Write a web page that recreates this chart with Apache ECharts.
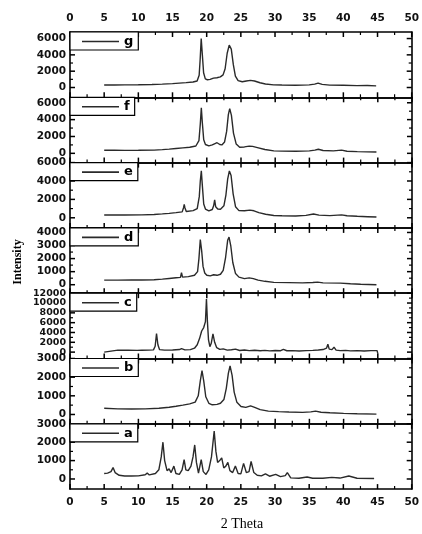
<!DOCTYPE html>
<html><head><meta charset="utf-8">
<script src="https://cdn.jsdelivr.net/npm/echarts@6/dist/echarts.min.js"></script>
<style>html,body{margin:0;padding:0;background:#fff}#c{width:422px;height:534px}</style>
</head><body><div id="c"></div>
<script>
// ---- data ----
const panelNames = ['g', 'f', 'e', 'd', 'c', 'b', 'a'];
const xTicks = [0, 5, 10, 15, 20, 25, 30, 35, 40, 45, 50];
const xLabelName = '2 Theta';
const yLabelName = 'Intensity';

const yTicksG = [0, 2000, 4000, 6000];
const yTicksF = [0, 2000, 4000, 6000];
const yTicksE = [0, 2000, 4000, 6000];
const yTicksD = [0, 1000, 2000, 3000, 4000];
const yTicksC = [0, 2000, 4000, 6000, 8000, 10000, 12000];
const yTicksB = [0, 1000, 2000, 3000];
const yTicksA = [0, 1000, 2000, 3000];

const seriesG = [[5,300],[6.5,310],[8,320],[10,330],[12,370],[13.5,420],[15,480],[16,540],[17,600],[18,680],[18.6,800],[18.9,1500],[19.05,3500],[19.2,6000],[19.35,4200],[19.55,1800],[19.8,1050],[20.1,950],[20.5,1000],[21,1150],[21.5,1200],[22,1300],[22.4,1550],[22.7,2300],[23,4200],[23.3,5200],[23.6,4700],[23.9,2800],[24.2,1400],[24.6,850],[25.2,700],[25.8,800],[26.4,880],[27,800],[27.8,580],[28.6,430],[29.8,320],[31,300],[33,280],[35,320],[35.8,420],[36.3,540],[36.9,380],[38,290],[40,270],[42,230],[43.5,240],[44.8,200]];
const seriesF = [[5,360],[6.5,360],[8,355],[10,360],[12.3,380],[13.5,440],[14.5,500],[15.5,580],[16.5,650],[17.5,720],[18.4,870],[18.85,1500],[19.05,3500],[19.2,5400],[19.35,3600],[19.55,1600],[19.8,1050],[20.3,880],[20.8,1000],[21.2,1150],[21.5,1260],[21.9,1050],[22.2,1000],[22.6,1350],[22.9,2600],[23.15,4600],[23.35,5300],[23.6,4500],[23.9,2400],[24.3,1100],[24.8,720],[25.5,760],[26.2,860],[26.7,820],[27.4,680],[28.5,450],[29.8,290],[31,260],[33,250],[35,290],[35.8,380],[36.3,480],[37,330],[38.5,290],[39.7,380],[40.5,250],[42,200],[44.8,160]];
const seriesE = [[5,300],[6.5,300],[8,310],[10.5,320],[12.3,350],[13.5,420],[14.5,480],[15.5,560],[16.4,640],[16.6,1100],[16.7,1450],[16.8,1100],[17,680],[18,780],[18.6,1000],[18.9,2300],[19.05,4000],[19.2,5100],[19.35,3500],[19.55,1500],[19.8,950],[20.3,760],[20.8,900],[21,1300],[21.15,1950],[21.3,1200],[21.6,950],[22,930],[22.5,1300],[22.8,2500],[23.05,4200],[23.3,5100],[23.55,4600],[23.85,2600],[24.2,1200],[24.7,780],[25.5,760],[26.3,830],[26.9,760],[27.6,560],[28.6,380],[29.8,250],[31,220],[33,200],[34.5,260],[35.6,410],[36.4,290],[38,230],[39.7,320],[40.5,220],[42,160],[43.5,120],[44.8,80]];
const seriesD = [[5,350],[7,350],[9,355],[10.5,360],[12.3,380],[13.5,430],[14.5,480],[15.5,530],[16.15,560],[16.3,920],[16.45,580],[17.3,620],[18.2,720],[18.65,1000],[18.85,2000],[19.05,3450],[19.25,2600],[19.45,1400],[19.7,900],[20,720],[20.5,680],[21,760],[21.5,720],[22,800],[22.4,1100],[22.75,2100],[23.05,3400],[23.25,3650],[23.5,3000],[23.8,1700],[24.2,850],[24.7,580],[25.5,470],[26.2,520],[26.8,470],[27.5,350],[28.5,260],[29.8,180],[32,160],[34,140],[35.5,170],[36.2,200],[37,140],[39.5,120],[41,70],[42.5,40],[44.8,0]];
const seriesC = [[5,0],[5.05,380],[7,400],[8.5,380],[9.8,360],[10.5,390],[11.5,400],[12.2,450],[12.45,1200],[12.65,3800],[12.85,1500],[13.1,500],[13.8,400],[15,430],[16,520],[16.3,700],[16.8,460],[17.6,500],[18.2,800],[18.6,1500],[18.95,2800],[19.25,4300],[19.55,5000],[19.8,6200],[19.95,10800],[20.1,6000],[20.25,2500],[20.45,1100],[20.65,1800],[20.9,3700],[21.15,2000],[21.45,900],[21.9,550],[22.4,650],[23,400],[23.6,480],[24.2,620],[24.8,330],[25.5,420],[26.2,300],[27,380],[27.8,280],[28.5,350],[29.2,260],[30,320],[30.8,280],[31.2,560],[31.7,280],[32.5,300],[33.5,240],[34.5,300],[35.5,360],[36.3,420],[37,520],[37.5,800],[37.7,1600],[37.9,600],[38.3,500],[38.6,1000],[38.9,400],[39.5,300],[40.3,350],[41,260],[42,300],[43,220],[44,300],[44.9,300],[45,-300]];
const seriesB = [[5,330],[7,300],[9,290],[11,300],[13,330],[14.5,390],[15.5,440],[16.5,500],[17.5,570],[18.3,660],[18.75,1000],[19.05,1800],[19.3,2350],[19.55,1800],[19.85,950],[20.3,600],[20.8,520],[21.5,540],[22,600],[22.5,800],[22.85,1400],[23.15,2200],[23.4,2600],[23.7,2100],[24,1200],[24.4,650],[25,430],[25.7,380],[26.4,460],[27,380],[27.8,260],[29,180],[30.5,150],[32,130],[34,110],[35.2,140],[35.9,180],[36.7,120],[38,90],[40,60],[42,40],[44.8,20]];
const seriesA = [[5,300],[5.5,320],[6,400],[6.3,620],[6.6,350],[7.2,200],[8,160],[9,160],[10,170],[11,230],[11.3,320],[11.6,220],[12.5,300],[13,500],[13.35,1200],[13.6,2000],[13.85,1000],[14.2,450],[14.5,550],[14.8,350],[15.2,700],[15.5,300],[16,250],[16.4,500],[16.7,1050],[16.95,500],[17.3,450],[17.7,700],[18,1200],[18.25,1850],[18.5,900],[18.8,320],[19.2,1050],[19.5,400],[19.9,250],[20.3,500],[20.7,1200],[21.1,2600],[21.35,1500],[21.6,900],[21.9,1000],[22.2,1150],[22.5,600],[22.8,700],[23.1,900],[23.4,450],[23.8,350],[24.2,700],[24.6,300],[25,280],[25.4,850],[25.8,350],[26.2,400],[26.5,950],[26.9,350],[27.4,200],[28,170],[28.6,280],[29.2,150],[30.1,250],[30.8,130],[31.5,180],[31.8,350],[32.3,60],[33.5,40],[34.7,110],[35.5,40],[37,40],[38.3,90],[39.5,50],[40.8,160],[42,40],[44.5,30]];

// ---- layout / styling ----
const panelSeries = [seriesG, seriesF, seriesE, seriesD, seriesC, seriesB, seriesA];
const panelTicks = [yTicksG, yTicksF, yTicksE, yTicksD, yTicksC, yTicksB, yTicksA];
const panelRange = [[-1200,6800],[-1100,6650],[-1100,6000],[-650,4350],[-1300,12000],[-500,3000],[-550,3000]];

const L = 70, W = 342, TOP = 32, H = 65.3;
const INK = '#2a2a2a';
const MAJOR = 5, MINOR = 3;
const labelFont = {fontFamily: 'DejaVu Sans', fontWeight: 'bold', fontSize: 10.5, color: '#111'};

function minorsOf(t) {
  const out = [];
  for (let i = 0; i < t.length - 1; i++) out.push((t[i] + t[i + 1]) / 2);
  return out;
}
const plain = v => String(v);

// tick marks drawn through the axes' own scales (custom series)
function tickRenderer(yMin) {
  return function (params, api) {
    const v = api.value(0), kind = api.value(1);
    const cs = params.coordSys;
    const st = {stroke: '#000', lineWidth: kind % 2 === 0 ? 1.5 : 1.2};
    const len = kind % 2 === 0 ? MAJOR : MINOR;
    if (kind < 2) {
      const px = api.coord([v, yMin])[0];
      const b = cs.y + cs.height, t = cs.y;
      return {type: 'group', children: [
        {type: 'line', shape: {x1: px, y1: b, x2: px, y2: b - len}, style: st},
        {type: 'line', shape: {x1: px, y1: t, x2: px, y2: t + len}, style: st}
      ]};
    }
    const py = api.coord([0, v])[1];
    const l = cs.x, r = cs.x + cs.width;
    return {type: 'group', children: [
      {type: 'line', shape: {x1: l, y1: py, x2: l + len, y2: py}, style: st},
      {type: 'line', shape: {x1: r, y1: py, x2: r - len, y2: py}, style: st}
    ]};
  };
}

const grid = [], xAxis = [], yAxis = [], series = [], legend = [];
panelNames.forEach((name, i) => {
  const top = TOP + i * H;
  grid.push({left: L, width: W, top: top, height: H, show: false});
  const xBase = (pos, showLabel) => ({
    type: 'value', gridIndex: i, position: pos, min: xTicks[0], max: xTicks[xTicks.length - 1],
    interval: xTicks[1] - xTicks[0],
    axisLine: {show: true, onZero: false, lineStyle: {color: '#000', width: 1.6}},
    axisTick: {show: false},
    axisLabel: Object.assign({show: showLabel, margin: 8, formatter: plain, hideOverlap: false}, labelFont),
    splitLine: {show: false}
  });
  xAxis.push(xBase('bottom', i === panelNames.length - 1));
  xAxis.push(xBase('top', i === 0));
  const ticks = panelTicks[i];
  const minors = minorsOf(ticks);
  const [mn, mx] = panelRange[i];
  const dense = ticks.length > 5;
  const yBase = (pos, showLabel) => ({
    type: 'value', gridIndex: i, position: pos, min: mn, max: mx,
    axisLine: {show: true, onZero: false, lineStyle: {color: '#000', width: 1.6}},
    axisTick: {show: false},
    axisLabel: Object.assign({show: showLabel, margin: 4, customValues: ticks, formatter: plain, hideOverlap: false,
      showMinLabel: true, showMaxLabel: true}, labelFont,
      dense ? {fontSize: 9.5, lineHeight: 8} : {lineHeight: 10}),
    splitLine: {show: false}
  });
  yAxis.push(yBase('left', true));
  yAxis.push(yBase('right', false));
  series.push({
    name: name, type: 'line', xAxisIndex: 2 * i, yAxisIndex: 2 * i,
    data: panelSeries[i], showSymbol: false, symbol: 'none', color: INK,
    lineStyle: {width: 1.4, color: INK}, animation: false, silent: true
  });
  const tickData = [];
  xTicks.forEach(v => tickData.push([v, 0]));
  minorsOf(xTicks).forEach(v => tickData.push([v, 1]));
  ticks.forEach(v => tickData.push([v, 2]));
  minors.forEach(v => tickData.push([v, 3]));
  series.push({
    name: 'ticks-' + name, type: 'custom', xAxisIndex: 2 * i, yAxisIndex: 2 * i,
    data: tickData, renderItem: tickRenderer(mn), clip: false, silent: true, animation: false, z: 5,
    encode: {x: -1, y: -1}
  });
  legend.push({
    data: [name], left: L, top: top, orient: 'horizontal', selectedMode: false,
    padding: [3, 5, 2, 12], itemWidth: 37, itemHeight: 1.6, icon: 'rect',
    borderColor: '#000', borderWidth: 1.2, borderRadius: 0, backgroundColor: '#fff', z: 6,
    textStyle: {fontFamily: 'DejaVu Sans', fontWeight: 'bold', fontSize: 13, color: '#000'}
  });
});

const chart = echarts.init(document.getElementById('c'), null, {renderer: 'canvas'});
chart.setOption({
  animation: false,
  backgroundColor: '#fff',
  grid, xAxis, yAxis, series, legend,
  graphic: [
    {type: 'text', x: 242, y: 524, style: {text: xLabelName, font: '14px "Liberation Serif"', fill: '#000', align: 'center', verticalAlign: 'middle'}},
    {type: 'text', x: 18, y: 262, rotation: Math.PI / 2, style: {text: yLabelName, font: 'bold 12px "Liberation Serif"', fill: '#000', align: 'center', verticalAlign: 'middle'}}
  ]
});
</script>
</body></html>
